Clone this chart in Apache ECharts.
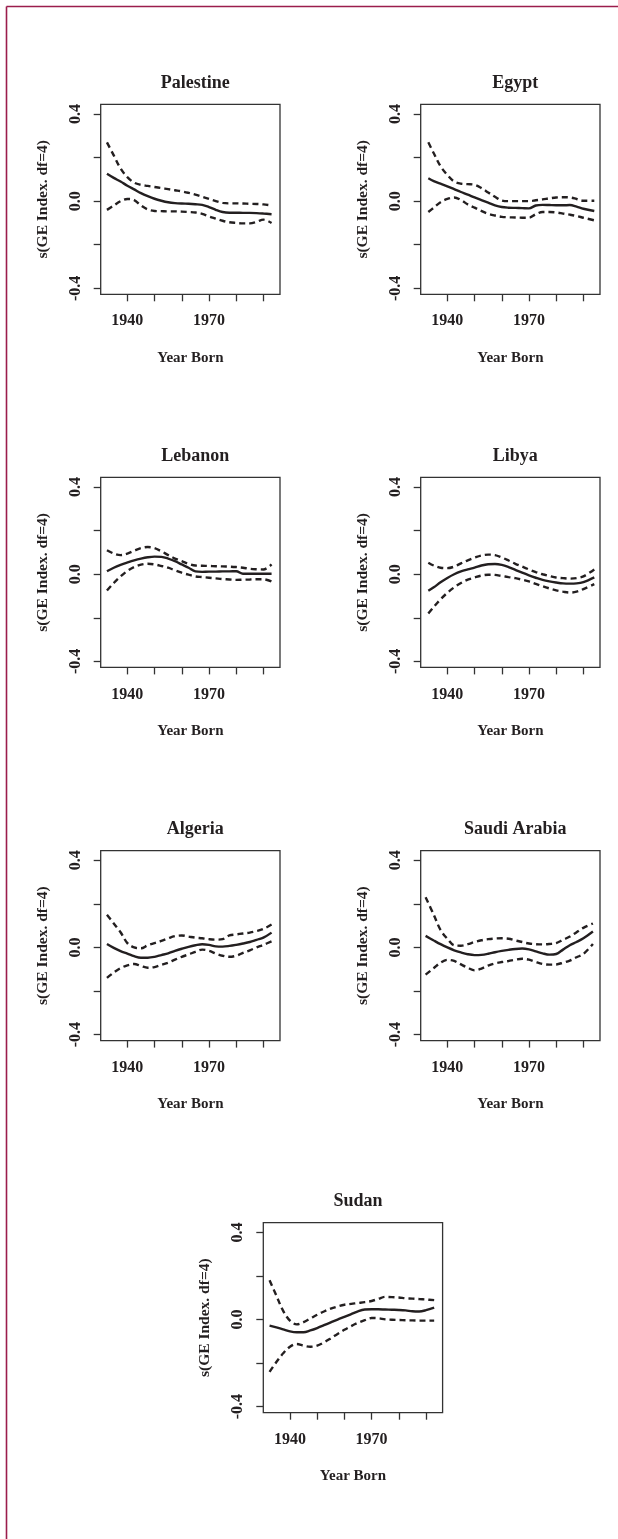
<!DOCTYPE html>
<html>
<head>
<meta charset="utf-8">
<script src="https://cdn.jsdelivr.net/npm/echarts@6/dist/echarts.min.js"></script>
<style>
html,body{margin:0;padding:0;background:#fff;}
#c{width:618px;height:1539px;}
</style>
</head>
<body>
<div id="c"></div>
<script>
// ---------- DATA ----------
const COUNTRIES = ["Palestine", "Egypt", "Lebanon", "Libya", "Algeria", "Saudi Arabia", "Sudan"];
const X_TICKS = [1940, 1950, 1960, 1970, 1980, 1990];
const X_LABELS = [1940, 1970];
const Y_TICKS = [-0.4, -0.2, 0.0, 0.2, 0.4];
const Y_LABELS = [-0.4, 0.0, 0.4];
const Y_NAME = "s(GE Index. df=4)";
const X_NAME = "Year Born";

const GRID_YEARS = [1937.5, 1940, 1942.5, 1945, 1947.5, 1950, 1952.5, 1955, 1957.5, 1960, 1962.5, 1965, 1967.5, 1970, 1972.5, 1975, 1977.5, 1980, 1982.5, 1985, 1987.5, 1990];
const START_YEARS = [1932.5, 1933, 1932.5, 1933, 1932.5, 1932, 1932.5];
const SECOND_YEAR = 1935;
const END_YEARS = [1993, 1994, 1993, 1994, 1993, 1993.5, 1993];

const palestineFit   = [0.126, 0.107, 0.09, 0.071, 0.054, 0.037, 0.023, 0.011, 0.002, -0.005, -0.009, -0.011, -0.012, -0.014, -0.017, -0.027, -0.04, -0.05, -0.053, -0.053, -0.054, -0.054, -0.055, -0.057, -0.06];
const palestineUpper = [0.27, 0.21, 0.15, 0.11, 0.085, 0.075, 0.07, 0.065, 0.06, 0.055, 0.05, 0.045, 0.038, 0.03, 0.02, 0.01, 0.0, -0.008, -0.01, -0.01, -0.011, -0.012, -0.013, -0.015, -0.02];
const palestineLower = [-0.04, -0.02, 0.0, 0.01, 0.005, -0.02, -0.038, -0.045, -0.046, -0.047, -0.047, -0.048, -0.05, -0.052, -0.058, -0.07, -0.08, -0.09, -0.097, -0.1, -0.102, -0.102, -0.095, -0.085, -0.1];

const egyptFit   = [0.105, 0.092, 0.08, 0.068, 0.055, 0.042, 0.03, 0.017, 0.005, -0.007, -0.019, -0.027, -0.03, -0.031, -0.032, -0.033, -0.02, -0.017, -0.018, -0.019, -0.019, -0.018, -0.025, -0.035, -0.045];
const egyptUpper = [0.27, 0.22, 0.16, 0.12, 0.09, 0.08, 0.078, 0.075, 0.06, 0.04, 0.02, 0.003, 0.0, 0.0, 0.0, 0.0, 0.004, 0.008, 0.013, 0.017, 0.018, 0.017, 0.01, 0.002, 0.002];
const egyptLower = [-0.05, -0.03, -0.005, 0.01, 0.017, 0.005, -0.015, -0.03, -0.045, -0.058, -0.066, -0.072, -0.074, -0.075, -0.076, -0.076, -0.06, -0.05, -0.05, -0.052, -0.057, -0.062, -0.068, -0.076, -0.088];

const lebanonFit   = [0.014, 0.03, 0.043, 0.054, 0.064, 0.072, 0.078, 0.081, 0.08, 0.072, 0.06, 0.045, 0.03, 0.013, 0.011, 0.012, 0.012, 0.013, 0.013, 0.014, 0.002, 0.002, 0.002, 0.002, 0.002];
const lebanonUpper = [0.11, 0.095, 0.088, 0.095, 0.108, 0.12, 0.125, 0.12, 0.105, 0.088, 0.072, 0.06, 0.048, 0.04, 0.039, 0.038, 0.037, 0.036, 0.035, 0.033, 0.03, 0.025, 0.023, 0.022, 0.045];
const lebanonLower = [-0.075, -0.04, -0.01, 0.015, 0.033, 0.044, 0.048, 0.045, 0.038, 0.03, 0.018, 0.007, -0.002, -0.01, -0.013, -0.016, -0.019, -0.022, -0.024, -0.026, -0.025, -0.024, -0.023, -0.023, -0.033];

const libyaFit   = [-0.076, -0.06, -0.037, -0.017, 0.0, 0.013, 0.022, 0.03, 0.04, 0.046, 0.047, 0.043, 0.033, 0.02, 0.007, -0.005, -0.016, -0.026, -0.033, -0.038, -0.042, -0.043, -0.042, -0.036, -0.014];
const libyaUpper = [0.053, 0.04, 0.03, 0.028, 0.035, 0.05, 0.064, 0.076, 0.086, 0.09, 0.088, 0.077, 0.063, 0.048, 0.035, 0.022, 0.01, 0.0, -0.008, -0.015, -0.018, -0.02, -0.018, -0.01, 0.022];
const libyaLower = [-0.18, -0.15, -0.115, -0.085, -0.06, -0.04, -0.025, -0.015, -0.006, -0.002, -0.003, -0.008, -0.013, -0.018, -0.025, -0.033, -0.044, -0.055, -0.065, -0.074, -0.08, -0.084, -0.08, -0.068, -0.045];

const algeriaFit   = [0.016, -0.002, -0.017, -0.028, -0.04, -0.047, -0.047, -0.043, -0.035, -0.027, -0.016, -0.006, 0.003, 0.01, 0.015, 0.012, 0.005, 0.004, 0.007, 0.012, 0.018, 0.025, 0.035, 0.045, 0.068];
const algeriaUpper = [0.15, 0.11, 0.07, 0.02, 0.0, -0.004, 0.01, 0.02, 0.03, 0.042, 0.052, 0.055, 0.05, 0.045, 0.042, 0.038, 0.036, 0.038, 0.055, 0.06, 0.064, 0.068, 0.075, 0.085, 0.105];
const algeriaLower = [-0.14, -0.115, -0.095, -0.082, -0.076, -0.085, -0.093, -0.09, -0.08, -0.07, -0.056, -0.043, -0.032, -0.02, -0.01, -0.015, -0.028, -0.038, -0.043, -0.038, -0.025, -0.013, 0.0, 0.012, 0.028];

const saudiFit   = [0.053, 0.032, 0.015, 0.0, -0.013, -0.023, -0.031, -0.035, -0.034, -0.029, -0.022, -0.016, -0.011, -0.007, -0.005, -0.009, -0.018, -0.027, -0.033, -0.03, -0.01, 0.01, 0.025, 0.042, 0.073];
const saudiUpper = [0.23, 0.15, 0.08, 0.04, 0.01, 0.008, 0.015, 0.025, 0.033, 0.038, 0.041, 0.042, 0.04, 0.032, 0.025, 0.018, 0.015, 0.014, 0.016, 0.02, 0.035, 0.05, 0.07, 0.09, 0.11];
const saudiLower = [-0.125, -0.095, -0.07, -0.057, -0.062, -0.078, -0.093, -0.105, -0.097, -0.083, -0.073, -0.067, -0.062, -0.056, -0.052, -0.056, -0.067, -0.076, -0.079, -0.078, -0.07, -0.06, -0.045, -0.03, 0.016];

const sudanFit   = [-0.028, -0.036, -0.045, -0.054, -0.058, -0.058, -0.05, -0.039, -0.026, -0.013, 0.0, 0.012, 0.025, 0.038, 0.046, 0.047, 0.047, 0.046, 0.045, 0.044, 0.042, 0.038, 0.037, 0.043, 0.055];
const sudanUpper = [0.18, 0.11, 0.04, -0.005, -0.022, -0.012, 0.005, 0.022, 0.037, 0.05, 0.06, 0.068, 0.072, 0.076, 0.08, 0.085, 0.095, 0.104, 0.103, 0.101, 0.098, 0.096, 0.094, 0.092, 0.089];
const sudanLower = [-0.24, -0.195, -0.155, -0.125, -0.112, -0.12, -0.125, -0.12, -0.105, -0.086, -0.066, -0.047, -0.03, -0.015, -0.003, 0.007, 0.006, 0.001, -0.001, -0.002, -0.003, -0.004, -0.005, -0.005, -0.005];

const FITS   = [palestineFit, egyptFit, lebanonFit, libyaFit, algeriaFit, saudiFit, sudanFit];
const UPPERS = [palestineUpper, egyptUpper, lebanonUpper, libyaUpper, algeriaUpper, saudiUpper, sudanUpper];
const LOWERS = [palestineLower, egyptLower, lebanonLower, libyaLower, algeriaLower, saudiLower, sudanLower];

// ---------- LAYOUT ----------
const X_MIN = 1930.2, X_MAX = 1996.1;
const Y_MIN = -0.4275, Y_MAX = 0.4445;
const BOX_W = 179.3, BOX_H = 190;
const LEFTS = [100.7, 420.7, 100.7, 420.7, 100.7, 420.7, 263.3];
const TOPS  = [104.3, 104.3, 477.4, 477.4, 850.6, 850.6, 1222.7];

const INK = '#231f20';
const FONT = '"Liberation Serif", "DejaVu Serif", serif';

const chart = echarts.init(document.getElementById('c'), null, {renderer: 'canvas'});

const grids = [], xAxes = [], yAxes = [], series = [], titles = [];

COUNTRIES.forEach((name, i) => {
  const years = [START_YEARS[i], SECOND_YEAR].concat(GRID_YEARS, [END_YEARS[i]]);
  grids.push({
    left: LEFTS[i], top: TOPS[i], width: BOX_W, height: BOX_H,
    show: true, borderColor: '#333', borderWidth: 1.3, backgroundColor: 'transparent',
    containLabel: false
  });
  titles.push({
    text: name,
    left: LEFTS[i] + BOX_W / 2,
    top: TOPS[i] - 35,
    textAlign: 'center',
    textStyle: {fontFamily: FONT, fontWeight: 'bold', fontSize: 18, color: INK}
  });
  xAxes.push({
    type: 'value', gridIndex: i, min: X_MIN, max: X_MAX,
    name: X_NAME, nameLocation: 'middle', nameGap: 56,
    nameTextStyle: {fontFamily: FONT, fontWeight: 'bold', fontSize: 15, color: INK},
    axisLine: {show: false, onZero: false},
    axisTick: {show: true, length: 7, customValues: X_TICKS, lineStyle: {color: '#333', width: 1.3}},
    axisLabel: {show: true, margin: 19, customValues: X_LABELS, fontFamily: FONT, fontWeight: 'bold', fontSize: 16, color: INK,
      formatter: v => String(v)},
    splitLine: {show: false}
  });
  yAxes.push({
    type: 'value', gridIndex: i, min: Y_MIN, max: Y_MAX,
    name: Y_NAME, nameLocation: 'middle', nameGap: 50, nameRotate: 90,
    nameTextStyle: {fontFamily: FONT, fontWeight: 'bold', fontSize: 15.5, color: INK},
    axisLine: {show: false, onZero: false},
    axisTick: {show: true, length: 7, customValues: Y_TICKS, lineStyle: {color: '#333', width: 1.3}},
    axisLabel: {show: true, rotate: 90, margin: 17, customValues: Y_LABELS, fontFamily: FONT, fontWeight: 'bold', fontSize: 16, color: INK,
      formatter: v => Number(v).toFixed(1)},
    splitLine: {show: false}
  });
  const mk = (vals, dashed) => ({
    type: 'line', xAxisIndex: i, yAxisIndex: i,
    data: years.map((y, k) => [y, vals[k]]),
    showSymbol: false, smooth: 0.35, silent: true, animation: false,
    lineStyle: {color: INK, width: 2.4, type: dashed ? [6, 4] : 'solid'}
  });
  series.push(mk(UPPERS[i], true), mk(LOWERS[i], true), mk(FITS[i], false));
});

chart.setOption({
  animation: false,
  backgroundColor: '#fff',
  title: titles,
  grid: grids,
  xAxis: xAxes,
  yAxis: yAxes,
  series: series,
  graphic: [
    {type: 'line', silent: true, shape: {x1: 6.5, y1: 6.5, x2: 618, y2: 6.5}, style: {stroke: '#9b1d4c', lineWidth: 1.6}},
    {type: 'line', silent: true, shape: {x1: 6.5, y1: 6.5, x2: 6.5, y2: 1539}, style: {stroke: '#9b1d4c', lineWidth: 1.6}}
  ]
});
</script>
</body>
</html>
